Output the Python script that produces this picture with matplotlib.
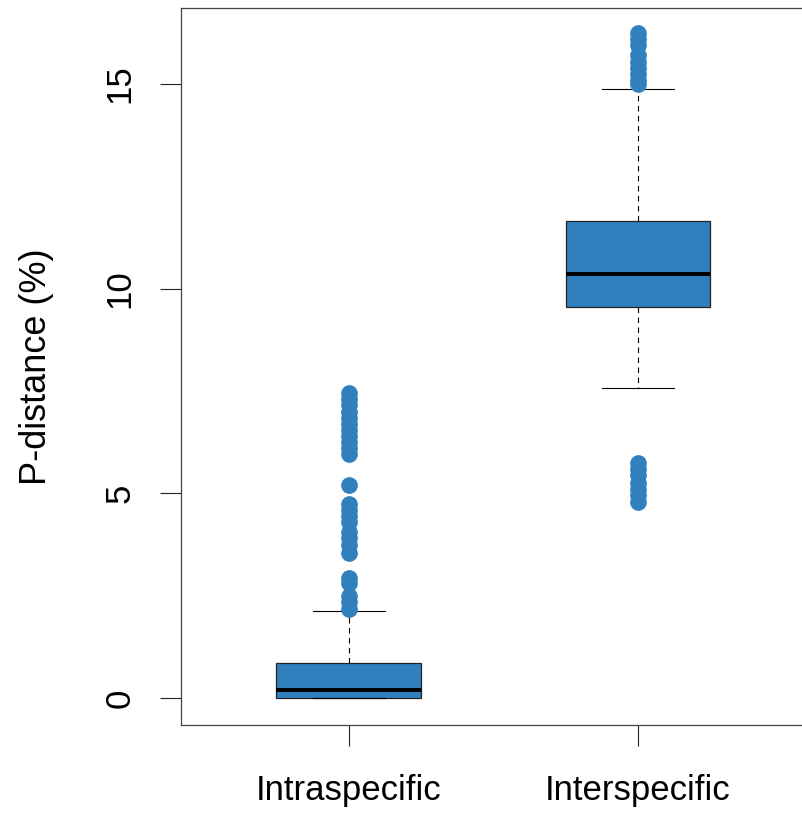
import matplotlib
matplotlib.use("Agg")
import matplotlib.pyplot as plt

plt.rcParams['font.family'] = ['Liberation Sans', 'DejaVu Sans']

# group labels
groups = ["Intraspecific", "Interspecific"]

# box summary values (P-distance, %)
whisker_low = [0.0, 7.57]
q1 = [0.0, 9.55]
median = [0.2, 10.36]
q3 = [0.86, 11.66]
whisker_high = [2.13, 14.88]

# outliers
intra_out = [7.45, 7.3, 7.15, 7.0, 6.85, 6.7, 6.55, 6.4, 6.25, 6.1, 5.95,
             5.2, 4.75, 4.6, 4.45, 4.3, 4.05, 3.9, 3.75, 3.55,
             2.92, 2.8, 2.5, 2.35, 2.18]
inter_out = [16.25, 16.1, 15.95, 15.7, 15.55, 15.4, 15.25, 15.1, 15.0,
             5.75, 5.6, 5.45, 5.25, 5.1, 4.95, 4.8]
outliers = [intra_out, inter_out]

blue = '#3180BE'

stats = []
for i, g in enumerate(groups):
    stats.append({'label': g, 'whislo': whisker_low[i], 'q1': q1[i],
                  'med': median[i], 'q3': q3[i], 'whishi': whisker_high[i],
                  'fliers': outliers[i]})

fig = plt.figure(figsize=(8.03, 8.13), dpi=100)
ax = fig.add_axes([181 / 803, 1 - 725 / 813, 624.6 / 803, 717 / 813])

ax.bxp(stats, positions=[1, 2], widths=0.5, patch_artist=True,
       boxprops=dict(facecolor=blue, edgecolor='#222222', linewidth=0.9),
       medianprops=dict(color='black', linewidth=2.8),
       whiskerprops=dict(color='black', linewidth=0.8, linestyle=(0, (5, 4))),
       capprops=dict(color='black', linewidth=0.8),
       capwidths=0.25,
       flierprops=dict(marker='o', markerfacecolor=blue, markeredgecolor=blue,
                       markersize=11, linestyle='none'))

ax.set_xlim(0.42, 2.58)
ax.set_ylim(-0.66, 16.86)
ax.set_yticks([0, 5, 10, 15])
ax.set_yticklabels(['0', '5', '10', '15'], rotation=90, va='center')
ax.set_xticks([1, 2])
ax.set_xticklabels(groups)
ax.tick_params(axis='both', labelsize=25, length=15, width=0.8, color='#222222')
ax.tick_params(axis='y', pad=17)
ax.tick_params(axis='x', pad=20)
ax.set_ylabel('P-distance (%)', fontsize=26, labelpad=36)

for s in ax.spines.values():
    s.set_color('#444444')
    s.set_linewidth(0.9)
ax.spines['right'].set_visible(False)

fig.savefig('out.png', dpi=100)
